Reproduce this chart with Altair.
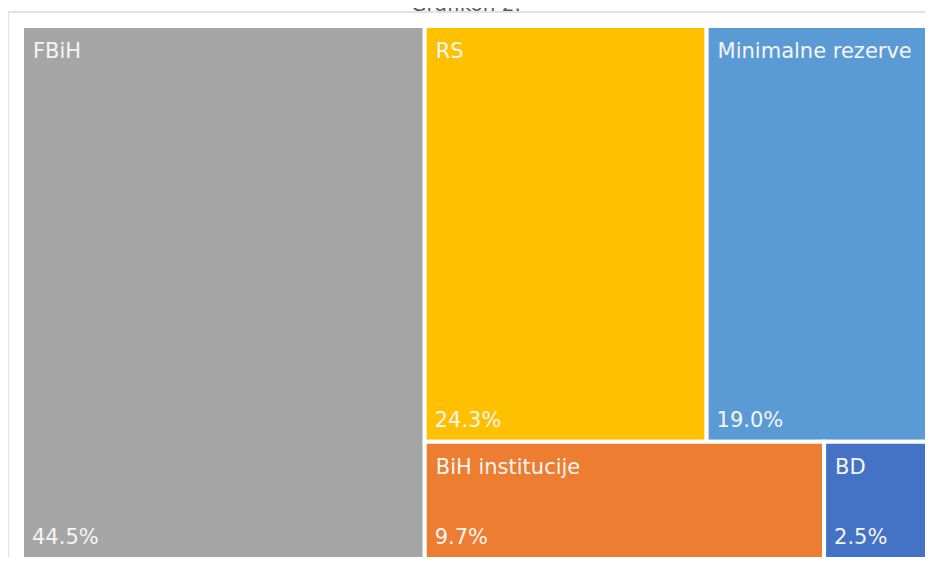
import altair as alt
import pandas as pd

names = ["FBiH", "RS", "Minimalne rezerve", "BiH institucije", "BD"]
shares = [44.5, 24.3, 19.0, 9.7, 2.5]
pct_labels = ["44.5%", "24.3%", "19.0%", "9.7%", "2.5%"]
colors = ["#A5A5A5", "#FFC000", "#5B9BD5", "#ED7D31", "#4472C4"]
title_text = "Grafikon 2."

# layout box (pixels) for the squarified treemap
W, H = 905.0, 533.0


def worst(row, side):
    s = sum(row)
    return max(max(side * side * r / (s * s), s * s / (side * side * r)) for r in row)


def squarify(areas, x, y, w, h):
    out = []
    areas = list(areas)
    while areas:
        side = min(w, h)
        row = [areas[0]]
        i = 1
        while i < len(areas) and worst(row + [areas[i]], side) <= worst(row, side):
            row.append(areas[i])
            i += 1
        s = sum(row)
        if w >= h:
            cw = s / h
            yy = y
            for a in row:
                rh = a / cw
                out.append((x, yy, x + cw, yy + rh))
                yy += rh
            x += cw
            w -= cw
        else:
            rh = s / w
            xx = x
            for a in row:
                rw = a / rh
                out.append((xx, y, xx + rw, y + rh))
                xx += rw
            y += rh
            h -= rh
        areas = areas[i:]
    return out


total = sum(shares)
areas = [v / total * W * H for v in shares]
rects = squarify(areas, 0.0, 0.0, W, H)

df = pd.DataFrame({
    "name": names,
    "share": shares,
    "pct": pct_labels,
    "x0": [r[0] for r in rects],
    "y0": [r[1] for r in rects],
    "x1": [r[2] for r in rects],
    "y1": [r[3] for r in rects],
})

xs = alt.Scale(domain=[0, W], range=[14, 14 + W])
ys = alt.Scale(domain=[0, H], range=[18, 18 + H])

base = alt.Chart(df)

boxes = base.mark_rect(stroke="white", strokeWidth=4).encode(
    x=alt.X("x0:Q", scale=xs, axis=None),
    x2="x1:Q",
    y=alt.Y("y0:Q", scale=ys, axis=None),
    y2="y1:Q",
    color=alt.Color("name:N", scale=alt.Scale(domain=names, range=colors), legend=None),
    tooltip=["name:N", "pct:N"],
)

name_txt = base.mark_text(
    align="left", baseline="alphabetic", dx=11, dy=32,
    color="#F5F5F5", fontSize=21, font="DejaVu Sans",
).encode(
    x=alt.X("x0:Q", scale=xs, axis=None),
    y=alt.Y("y0:Q", scale=ys, axis=None),
    text="name:N",
)

pct_txt = base.mark_text(
    align="left", baseline="alphabetic", dx=10, dy=-15,
    color="#F5F5F5", fontSize=21, font="DejaVu Sans",
).encode(
    x=alt.X("x0:Q", scale=xs, axis=None),
    y=alt.Y("y1:Q", scale=ys, axis=None),
    text="pct:N",
)

title_df = pd.DataFrame({"t": [title_text]})
title = alt.Chart(title_df).mark_text(
    align="center", baseline="alphabetic", fontSize=20, font="DejaVu Sans", color="#595959"
).encode(x=alt.value(458), y=alt.value(3), text="t:N")

border_h = alt.Chart(title_df).mark_rule(color="#D9D9D9", strokeWidth=1.5).encode(
    x=alt.value(0), x2=alt.value(917), y=alt.value(4)
)
border_v = alt.Chart(title_df).mark_rule(color="#E3E3E3", strokeWidth=1.5).encode(
    x=alt.value(0.5), y=alt.value(4), y2=alt.value(549)
)

chart = alt.layer(border_h, border_v, title, boxes, name_txt, pct_txt).properties(
    width=917, height=549, padding=0,
    autosize=alt.AutoSizeParams(type="none"),
).configure_view(stroke=None)

chart.save("out.html", embed_options={"renderer": "svg", "actions": False})
